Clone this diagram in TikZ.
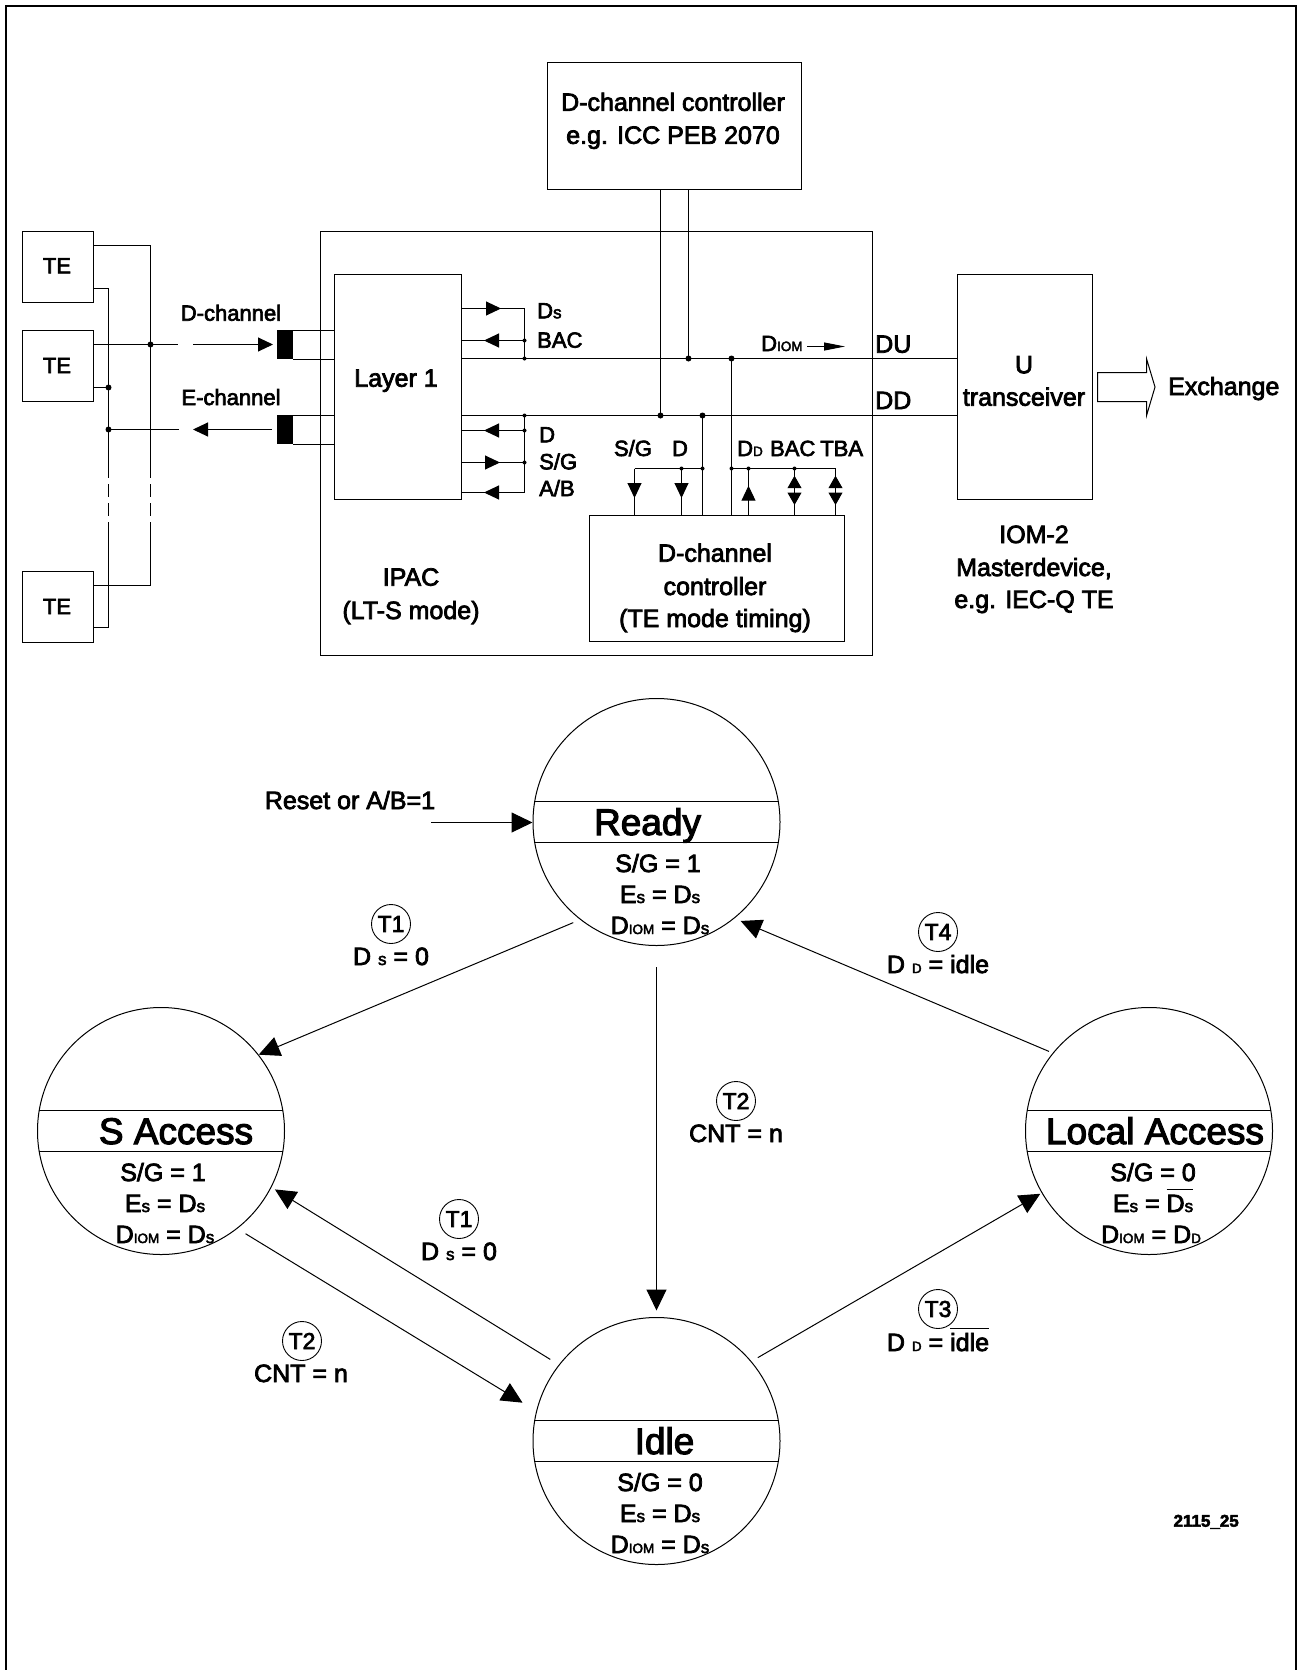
\documentclass[tikz,border=0pt]{standalone}
\usepackage{fontspec}
\setmainfont{Liberation Sans}[RawFeature={embolden=3}]
\usepackage{tikz}
\usetikzlibrary{
  arrows.meta,
  positioning}

\newcommand{\lows}{{\fontsize{17}{17}\selectfont s}}
\newcommand{\lowcap}[1]{{\fontsize{13.5}{15}\selectfont #1}}
\newcommand{\txtover}[1]{$\overline{\mbox{\rule{0pt}{21pt}#1}}$}

\tikzset{
  wire/.style={line width=1pt, black},
  head/.style={wire, -{Triangle[length=15pt, width=14pt]}},
  smallhead/.style={wire, -{Triangle[length=12.5pt, width=14pt]}},
  bighead/.style={wire, -{Triangle[length=21pt, width=20pt]}},
  box/.style={draw, line width=1pt, black, anchor=north west, inner sep=0pt, outer sep=0pt},
  plug/.style={fill=black, anchor=north west, inner sep=0pt, outer sep=0pt, minimum width=16pt, minimum height=29pt},
  dot/.style={circle, fill=black, inner sep=0pt, minimum size=6pt},
  tiny dot/.style={circle, fill=black, inner sep=0pt, minimum size=4pt},
  txt/.style={anchor=base, inner sep=0pt, font=\fontsize{25}{28}\selectfont},
  pin/.style={txt, font=\fontsize{22}{26}\selectfont},
  title/.style={txt, font=\fontsize{37}{40}\selectfont},
  tag/.style={circle, draw, line width=0.9pt, inner sep=0pt, minimum size=39pt, font=\fontsize{23}{26}\selectfont},
  state/.style={circle, draw, line width=1pt, inner sep=0pt, minimum size=247pt,
    path picture={
      \draw[line width=1pt] ([yshift=20.5pt]path picture bounding box.west) -- ([yshift=20.5pt]path picture bounding box.east);
      \draw[line width=1pt] ([yshift=-20.5pt]path picture bounding box.west) -- ([yshift=-20.5pt]path picture bounding box.east);
    }},
}

\begin{document}
\begin{tikzpicture}[x=1pt, y=-1pt]
\useasboundingbox (0,0) rectangle (1297,1670);
\draw[line width=2pt] (6,1670) -- (6,6) -- (1296,6) -- (1296,1670);

% upper block diagram
\node[box, minimum width=254pt, minimum height=127pt] (icc) at (547.5,62.5) {};
\node[box, minimum width=552pt, minimum height=424pt] (ipac) at (320.5,231.5) {};
\node[box, minimum width=127pt, minimum height=224.5pt, fill=white] (layer) at (334.5,274.5) {};
\node[box, minimum width=255pt, minimum height=126pt] (dctrl) at (589.5,515.5) {};
\node[box, minimum width=135pt, minimum height=224.5pt] (utrans) at (957.5,274.5) {};
\node[box, minimum width=71pt, minimum height=70.5pt] (te1) at (22.5,231.5) {};
\node[box, minimum width=71pt, minimum height=70.5pt] (te2) at (22.5,330.5) {};
\node[box, minimum width=71pt, minimum height=70.5pt] (te3) at (22.5,571.5) {};
\node[plug] (dplug) at (277,330) {};
\node[plug] (eplug) at (277,415) {};

\node[pin] (te1txt) at (57,273.3) {TE};
\node[pin] (te2txt) at (57,373) {TE};
\node[pin] (te3txt) at (57,614) {TE};
\node[pin] (dchan) at (231,320.7) {D-channel};
\node[pin] (echan) at (231,405) {E-channel};
\node[txt] (layertxt) at (396,386.7) {Layer 1};
\node[txt] (ipac1) at (411,585.7) {IPAC};
\node[txt] (ipac2) at (411,619) {(LT-S mode)};
\node[txt] (icc1) at (673,110.8) {D-channel controller};
\node[txt] (icc2) at (673,143.8) {e.g. ICC PEB 2070};
\node[txt] (dctrl1) at (715,561.7) {D-channel};
\node[txt] (dctrl2) at (715,595) {controller};
\node[txt] (dctrl3) at (715,627) {(TE mode timing)};
\node[txt] (utxt1) at (1024,373.3) {U};
\node[txt] (utxt2) at (1024,405.7) {transceiver};
\node[txt, anchor=base west] (exch) at (1168,395) {Exchange};
\node[txt] (iom1) at (1034,543) {IOM-2};
\node[txt] (iom2) at (1034,576) {Masterdevice,};
\node[txt] (iom3) at (1034,608) {e.g. IEC-Q TE};
\node[txt, anchor=base west] (dulab) at (875,352.7) {DU};
\node[txt, anchor=base west] (ddlab) at (875,409) {DD};
\node[pin, anchor=base west] (diomlab) at (761,351) {D\lowcap{IOM}};

\foreach \nm/\px/\py/\tx in {
  lds/537/318.3/D\lows,
  lbac/537/347.7/BAC,
  ldp/539/442.3/D,
  lsg/539/469.3/S\slash G,
  lab/539/496/A\slash B,
  lddd/737/456/D\lowcap{D}}
  \node[pin, anchor=base west] (\nm) at (\px,\py) {\tx};
\foreach \nm/\px/\tx in {
  tsg/633/S\slash G,
  tdp/680/D,
  tbac/792.7/BAC,
  ttba/841.7/TBA}
  \node[pin] (\nm) at (\px,456) {\tx};

% TE bus
\coordinate (busa) at (150.5,245.5);
\coordinate (busa d1) at (150.5,465);
\coordinate (busa d2) at (150.5,530);
\coordinate (busa e) at (150.5,585.5);
\coordinate (busb) at (108.5,288.5);
\coordinate (busb d1) at (108.5,465);
\coordinate (busb d2) at (108.5,530);
\coordinate (busb e) at (108.5,627.5);
\coordinate (junc d) at (150.5,344.5);
\coordinate (junc te) at (108.5,387.5);
\coordinate (junc e) at (108.5,429.5);
\coordinate (gap d1) at (178,344.5);
\coordinate (gap d2) at (193,344.5);
\coordinate (gap e1) at (179,429.5);
\coordinate (gap e2) at (193,429.5);

\draw[wire] (te1.east |- busa) -- (busa) -- (busa d1);
\draw[wire, dash pattern=on 13pt off 6pt] (busa d1) -- (busa d2);
\draw[wire] (busa d2) -- (busa e) -- (te3.east |- busa e);
\draw[wire] (te1.east |- busb) -- (busb) -- (busb d1);
\draw[wire, dash pattern=on 13pt off 6pt] (busb d1) -- (busb d2);
\draw[wire] (busb d2) -- (busb e) -- (te3.east |- busb e);
\draw[wire] (te2.east |- junc d) -- (gap d1);
\draw[wire] (te2.east |- junc te) -- (junc te);
\draw[head, shorten >=4pt] (gap d2) -- (dplug.west);
\draw[head] (eplug.west) ++(-5,0) -- (gap e2);
\draw[wire] (gap e1) -- (junc e);
\foreach \nm in {junc d, junc te, junc e}
  \node[dot] (\nm dot) at (\nm) {};

\foreach \pl in {dplug, eplug}{
  \draw[wire] (\pl.north east) -- (layer.west |- \pl.north east);
  \draw[wire] (\pl.south east) -- (layer.west |- \pl.south east);
}

% IOM lines
\coordinate (du j1) at (688.5,358.5);
\coordinate (du j2) at (731.5,358.5);
\coordinate (dd j1) at (660.5,415.5);
\coordinate (dd j2) at (702.5,415.5);
\draw[wire] (layer.east |- du j1) -- (utrans.west |- du j1);
\draw[wire] (layer.east |- dd j1) -- (utrans.west |- dd j1);
\draw[wire] (icc.south -| du j1) -- (du j1);
\draw[wire] (icc.south -| dd j1) -- (dd j1);
\draw[wire] (du j2) -- (dctrl.north -| du j2);
\draw[wire] (dd j2) -- (dctrl.north -| dd j2);
\foreach \nm in {du j1, du j2, dd j1, dd j2}
  \node[dot] (\nm dot) at (\nm) {};
\coordinate (diom a) at (807,346.5);
\coordinate (diom b) at (845,346.5);
\draw[wire, -{Triangle[length=21pt, width=8pt]}] (diom a) -- (diom b);

% layer 1 pins
\coordinate (pin top) at (524.5,308.5);
\coordinate (pin mid) at (524.5,358.5);
\coordinate (pin low) at (524.5,415.5);
\coordinate (pin end) at (524.5,492.5);
\draw[wire] (pin top) -- (pin mid);
\draw[wire] (pin low) -- (pin end);
\foreach \nm/\ya/\xt/\src in {
  ds/308.5/501/in,
  bac/340.5/484/out,
  dp/430.5/484/out,
  sg/462.5/500/in,
  ab/492.5/484/out}
{
  \coordinate (\nm in) at (461.5,\ya);
  \coordinate (\nm out) at (524.5,\ya);
  \coordinate (\nm tip) at (\xt,\ya);
  \draw[wire] (\nm in) -- (\nm out);
  \draw[head] (\nm\src) -- (\nm tip);
}
\foreach \nm in {bacout, dpout, sgout, pin mid, pin low}
  \node[tiny dot] (\nm dot) at (\nm) {};

% controller pins
\coordinate (rail a) at (634.5,468.5);
\coordinate (rail b) at (702.5,468.5);
\coordinate (rail c) at (731.5,468.5);
\coordinate (rail d) at (835.5,468.5);
\draw[wire] (rail a) -- (rail b);
\draw[wire] (rail c) -- (rail d);
\foreach \nm/\xa/\tipa/\tipb/\tipstyle in {
  sg/634.5/468.5/498/head,
  dp/681.5/468.5/498/head,
  dd/748.5/515.5/485.7/head,
  bac/794.5/515.5/475.7/smallhead,
  tba/835.5/515.5/475.7/smallhead}
{
  \coordinate (c\nm top) at (\xa,468.5);
  \coordinate (c\nm bot) at (\xa,515.5);
  \coordinate (c\nm tail) at (\xa,\tipa);
  \coordinate (c\nm tip) at (\xa,\tipb);
  \draw[wire] (c\nm top) -- (c\nm bot);
  \draw[\tipstyle] (c\nm tail) -- (c\nm tip);
}
\coordinate (cbac tipb) at (794.5,505);
\coordinate (ctba tipb) at (835.5,505);
\draw[smallhead] (cbactop) -- (cbac tipb);
\draw[smallhead] (ctbatop) -- (ctba tipb);
\foreach \nm in {rail b, rail c, cdptop, cddtop, cbactop}
  \node[tiny dot] (\nm dot) at (\nm) {};

\draw[wire] (1097.5,372.5) -- (1146.5,372.5) -- (1146.5,358.7) -- (1155,387) -- (1146.5,415.7) -- (1146.5,401.5) -- (1097.5,401.5) -- cycle;

% state machine
\node[state] (ready) at (656.5,822) {};
\node[state] (saccess) at (161,1131) {};
\node[state] (local) at (1149,1131) {};
\node[state] (idle) at (656.5,1441) {};

\node[title] (readyname) at (647.5,835) {Ready};
\node[title] (saccessname) at (176,1144) {S Access};
\node[title] (localname) at (1155,1144) {Local Access};
\node[title] (idlename) at (664.5,1454) {Idle};

\node[txt] (ready1) at (658,872) {S/G = 1};
\node[txt] (ready2) at (660,903) {E\lows{} = D\lows};
\node[txt] (ready3) at (660,934) {D\lowcap{IOM} = D\lows};
\node[txt] (saccess1) at (163,1181) {S/G = 1};
\node[txt] (saccess2) at (165,1212) {E\lows{} = D\lows};
\node[txt] (saccess3) at (165,1243) {D\lowcap{IOM} = D\lows};
\node[txt] (local1) at (1153,1181) {S/G = 0};
\node[txt] (local2) at (1153,1212) {E\lows{} = \txtover{D\lows}};
\node[txt] (local3) at (1151,1243) {D\lowcap{IOM} = D\lowcap{D}};
\node[txt] (idle1) at (660,1491) {S/G = 0};
\node[txt] (idle2) at (660,1522) {E\lows{} = D\lows};
\node[txt] (idle3) at (660,1553) {D\lowcap{IOM} = D\lows};

\node[txt] (resetlab) at (350,809) {Reset or A/B=1};
\coordinate (resetstart) at (431,822.5);
\draw[bighead] (resetstart) -- (ready.west |- resetstart);

\draw[bighead, shorten <=7.5pt] (ready.232) -- (saccess.38.5);
\draw[bighead, shorten <=21pt, shorten >=6.5pt] (ready.south) -- (idle.north);
\draw[bighead, shorten <=4pt, shorten >=6.6pt] (local.141.6) -- (ready.309.1);
\draw[bighead, shorten <=7.3pt, shorten >=1.5pt] (idle.40.1) -- (local.210.8);
\draw[bighead, shorten <=10pt, shorten >=4pt] (idle.142.1) -- (saccess.333.2);
\draw[bighead, shorten <=9.6pt, shorten >=16pt] (saccess.308.6) -- (idle.166.8);

\node[tag] (tagta) at (391,924) {T1};
\node[txt] (conda) at (391,965) {D \lows{} = 0};
\node[tag] (tagd) at (938,932) {T4};
\node[txt] (condd) at (938,973) {D \lowcap{D} = idle};
\node[tag] (tagba) at (736,1101) {T2};
\node[txt] (condba) at (736,1142) {CNT = n};
\node[tag] (tagtb) at (459,1219) {T1};
\node[txt] (condtb) at (459,1260) {D \lows{} = 0};
\node[tag] (tagbb) at (302,1341) {T2};
\node[txt] (condbb) at (301,1382) {CNT = n};
\node[tag] (tagc) at (938,1309) {T3};
\node[txt] (condc) at (938,1351) {D \lowcap{D} = \txtover{idle}};

\node[txt, anchor=base east, font=\fontsize{17}{20}\selectfont\bfseries] (docnum) at (1239,1526.7) {2115\_25};
\end{tikzpicture}
\end{document}
